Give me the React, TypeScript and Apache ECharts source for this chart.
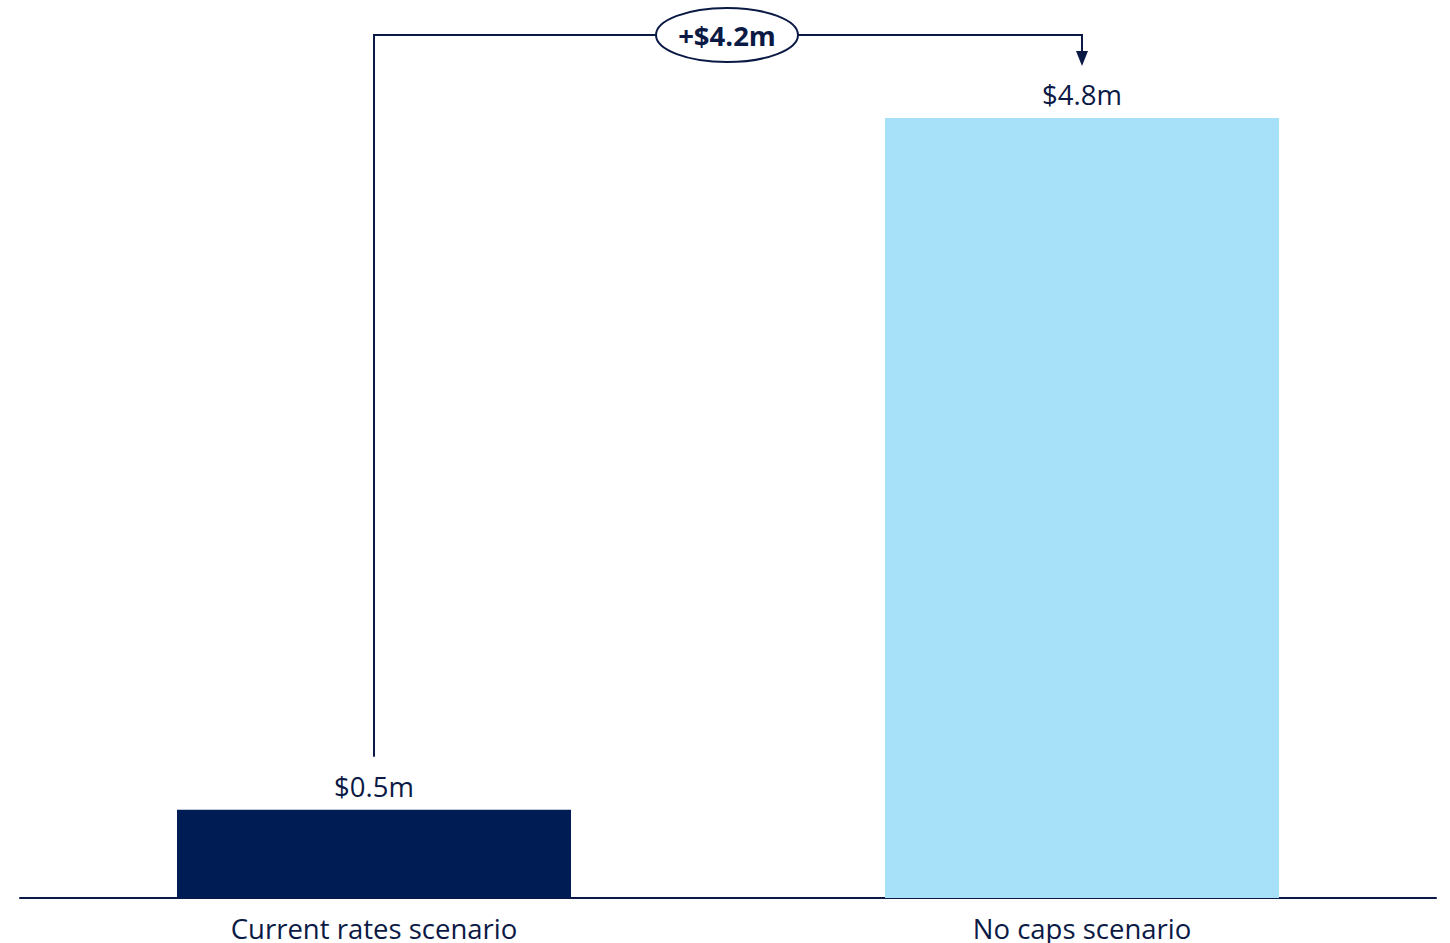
import React, { useEffect, useRef } from "react";
import * as echarts from "echarts";

const categories = ["Current rates scenario", "No caps scenario"];
const values = [0.54, 4.78];
const valueLabels = ["$0.5m", "$4.8m"];
const diffLabel = "+$4.2m";
const barColors = ["#001C54", "#A6E0F9"];

const NAVY = "#0B1A45";
const FONT = "'Open Sans'";

export default function App() {
  const ref = useRef<HTMLDivElement>(null);
  useEffect(() => {
    if (!ref.current) return;
    document.body.style.overflow = "hidden";
    const chart = echarts.init(ref.current, undefined, { renderer: "svg" });
    chart.setOption({
      animation: false,
      grid: { left: 20, right: 14, top: 82, bottom: 45, outerBoundsMode: "none", containLabel: false },
      xAxis: {
        type: "category",
        data: categories,
        axisLine: { lineStyle: { color: NAVY, width: 2 } },
        axisTick: { show: false },
        axisLabel: { color: "#0B1A45", fontSize: 27.5, fontFamily: FONT, margin: 16 },
      },
      yAxis: { type: "value", min: 0, max: 5, show: false, splitLine: { show: false } },
      series: [
        {
          type: "bar",
          barWidth: 394,
          data: values.map((v, i) => ({ value: v, itemStyle: { color: barColors[i] } })),
          label: {
            show: true,
            position: "top",
            distance: 9,
            color: "#0B1A45",
            fontSize: 27.5,
            fontFamily: FONT,
            formatter: (p: any) => valueLabels[p.dataIndex],
          },
        },
      ],
    });
    const p1 = chart.convertToPixel({ gridIndex: 0 }, [0, values[0]]) as number[];
    const p2 = chart.convertToPixel({ gridIndex: 0 }, [1, values[1]]) as number[];
    const topY = 35;
    const startY = p1[1] - 53;
    const tipY = p2[1] - 52;
    const midX = (p1[0] + p2[0]) / 2;
    const cx = midX - 1;
    chart.setOption({
      graphic: [
        {
          type: "polyline",
          shape: { points: [[p1[0], startY], [p1[0], topY], [p2[0], topY], [p2[0], tipY - 13]] },
          style: { stroke: NAVY, lineWidth: 2, fill: null },
        },
        {
          type: "polygon",
          shape: { points: [[p2[0] - 6, tipY - 15], [p2[0] + 6, tipY - 15], [p2[0], tipY]] },
          style: { fill: NAVY },
        },
        {
          type: "ellipse",
          shape: { cx, cy: topY, rx: 71, ry: 27 },
          style: { fill: "#ffffff", stroke: NAVY, lineWidth: 2 },
        },
        {
          type: "text",
          x: cx,
          y: topY,
          style: {
            text: diffLabel,
            fill: NAVY,
            font: `bold 27.5px ${FONT}`,
            align: "center",
            verticalAlign: "middle",
          },
        },
      ],
    });
    return () => chart.dispose();
  }, []);
  return (
    <div
      ref={ref}
      style={{ position: "fixed", left: 0, top: 0, width: 1450, height: 943, background: "#ffffff" }}
    />
  );
}
